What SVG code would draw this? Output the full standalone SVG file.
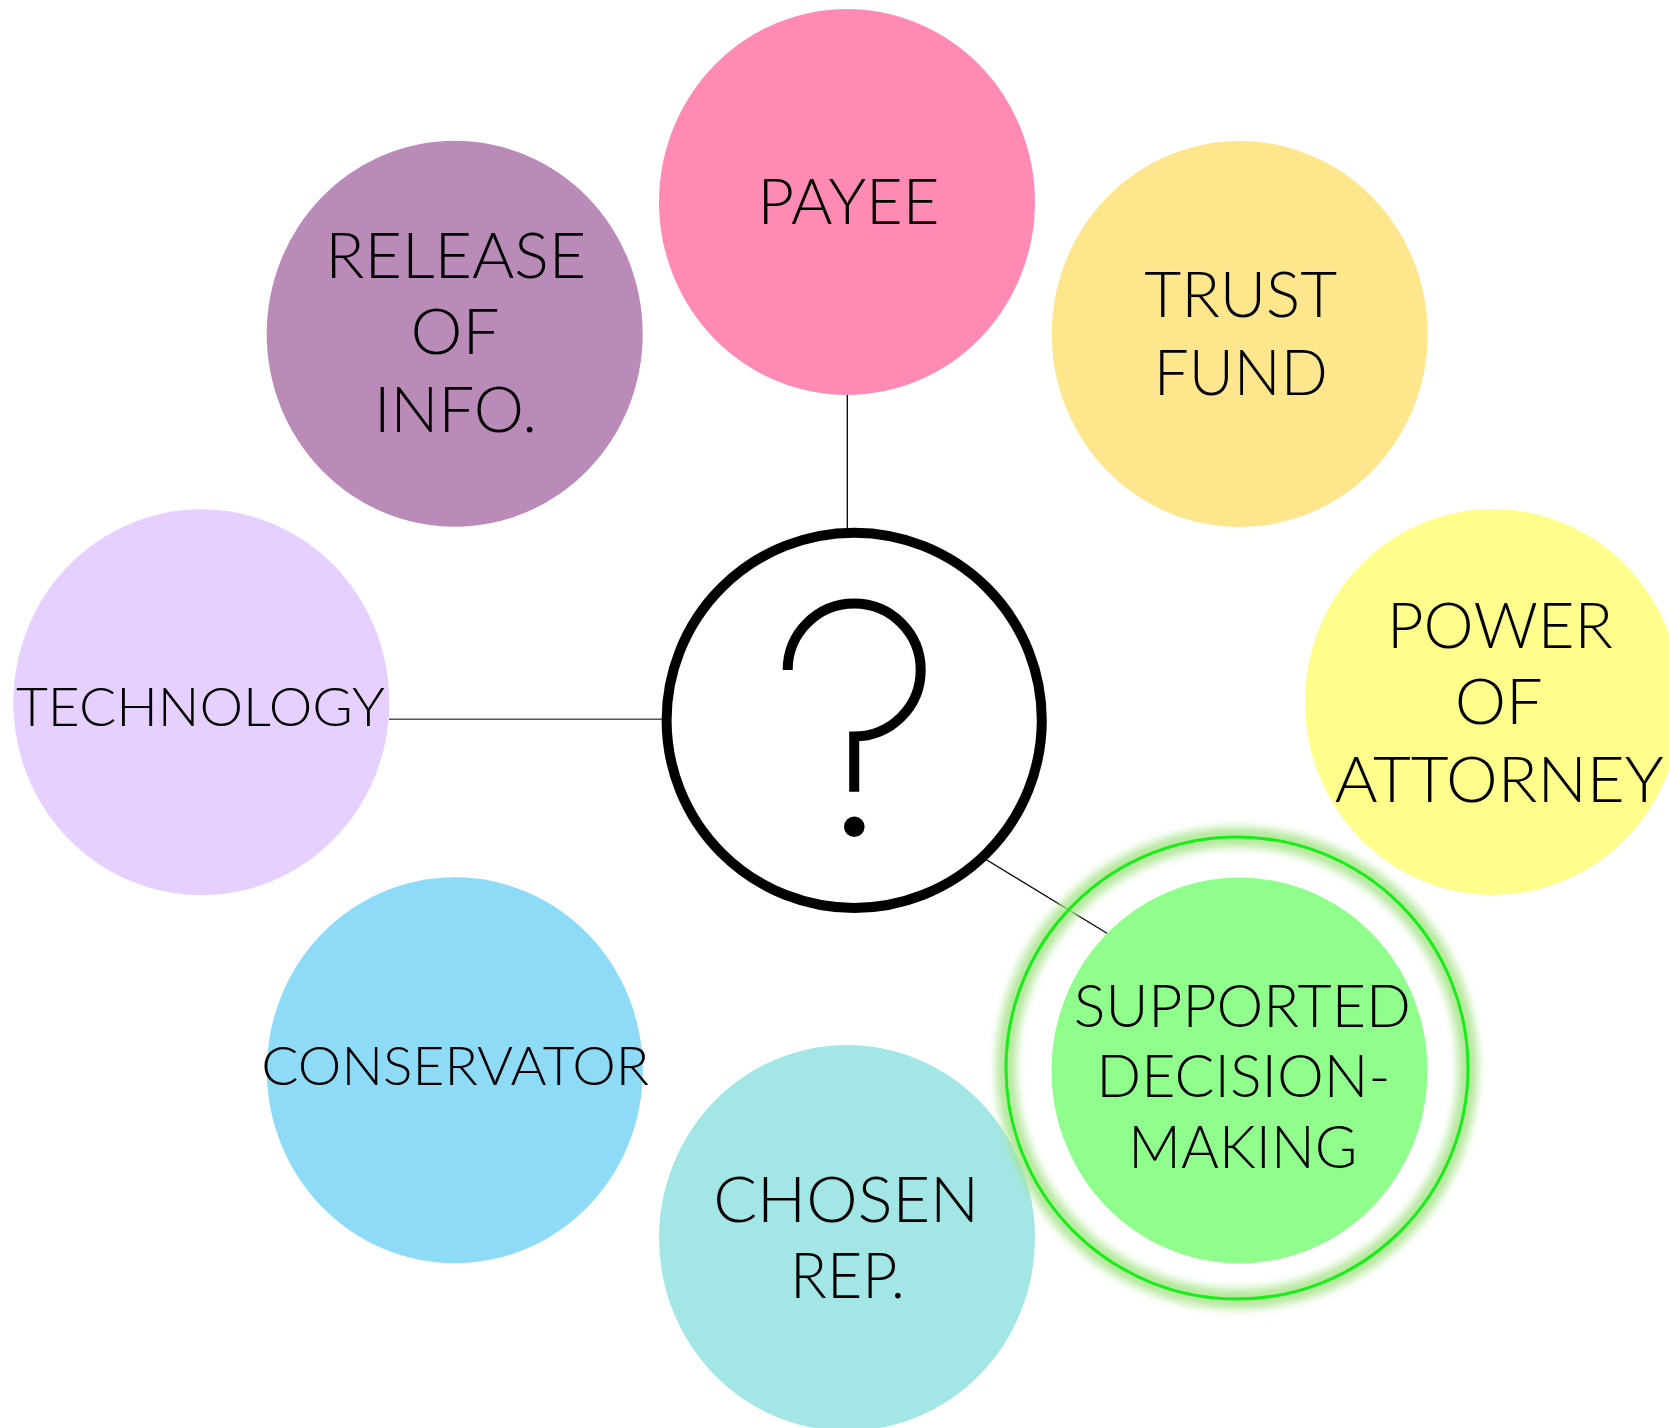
<svg xmlns="http://www.w3.org/2000/svg" width="1669" height="1428" viewBox="0 0 1669 1428">
<defs>
<style>
.lbl{font-family:Lato,"Liberation Sans",sans-serif;font-weight:300;fill:#000;text-anchor:middle}
.big{font-size:63px}
.mid{font-size:59px}
.sm{font-size:54px}
.conn{stroke:#000;stroke-width:1.3;fill:none}
</style>
<filter id="glow" x="-20%" y="-20%" width="140%" height="140%">
<feGaussianBlur stdDeviation="4"/>
</filter>
</defs>
<rect width="1669" height="1428" fill="#fff"/>
<g id="connectors">
<line class="conn" x1="847.3" y1="395" x2="847.3" y2="530"/>
<line class="conn" x1="389" y1="719.3" x2="662" y2="719.3" style="stroke:#555;stroke-width:1.6"/>
<line class="conn" x1="986" y1="859.5" x2="1107" y2="933.3"/>
</g>
<g id="payee">
<ellipse cx="847" cy="202" rx="188" ry="193" fill="#FF8BB5"/>
<text class="lbl big" x="848.5" y="224.3" textLength="182" lengthAdjust="spacingAndGlyphs">PAYEE</text>
</g>
<g id="release-of-info">
<ellipse cx="454.7" cy="333.8" rx="188" ry="193" fill="#BA8BB9"/>
<text class="lbl big" x="455.8" y="277.7" textLength="261" lengthAdjust="spacingAndGlyphs">RELEASE</text>
<text class="lbl big" x="455" y="354.3" textLength="89" lengthAdjust="spacingAndGlyphs">OF</text>
<text class="lbl big" x="455.5" y="431.7" textLength="163" lengthAdjust="spacingAndGlyphs">INFO.</text>
</g>
<g id="trust-fund">
<ellipse cx="1239.7" cy="334" rx="188" ry="193" fill="#FDE68C"/>
<text class="lbl big" x="1240.7" y="317.3" textLength="193" lengthAdjust="spacingAndGlyphs">TRUST</text>
<text class="lbl big" x="1240.8" y="395" textLength="174" lengthAdjust="spacingAndGlyphs">FUND</text>
</g>
<g id="technology">
<ellipse cx="201.3" cy="702.3" rx="188" ry="193" fill="#E6D0FF"/>
<text class="lbl sm" x="200.4" y="726" textLength="369" lengthAdjust="spacingAndGlyphs">TECHNOLOGY</text>
</g>
<g id="power-of-attorney">
<ellipse cx="1493" cy="702" rx="188" ry="193" fill="#FFFD8C"/>
<text class="lbl big" x="1500" y="647.7" textLength="226" lengthAdjust="spacingAndGlyphs">POWER</text>
<text class="lbl big" x="1498.7" y="724.3" textLength="88" lengthAdjust="spacingAndGlyphs">OF</text>
<text class="lbl big" x="1499.2" y="801.7" textLength="329" lengthAdjust="spacingAndGlyphs">ATTORNEY</text>
</g>
<g id="question">
<circle cx="854.2" cy="720.3" r="187.6" fill="#fff" stroke="#000" stroke-width="10"/>
<path d="M787.7,670 A66.5,66.5 0 1 1 854.2,736.5 L854.2,791.7" fill="none" stroke="#000" stroke-width="10"/>
<circle cx="854.3" cy="826.7" r="10.3" fill="#000"/>
</g>
<g id="conservator">
<ellipse cx="454.8" cy="1070.3" rx="188" ry="193" fill="#8DDBF7"/>
<text class="lbl sm" x="455.3" y="1085" textLength="388" lengthAdjust="spacingAndGlyphs">CONSERVATOR</text>
</g>
<g id="chosen-rep">
<ellipse cx="847" cy="1238" rx="188" ry="193" fill="#A2E6E6"/>
<text class="lbl big" x="846.2" y="1221.7" textLength="266" lengthAdjust="spacingAndGlyphs">CHOSEN</text>
<text class="lbl big" x="847.5" y="1298.3" textLength="115" lengthAdjust="spacingAndGlyphs">REP.</text>
</g>
<g id="supported-decision-making">
<circle cx="1237" cy="1068" r="231" fill="none" stroke="#A8E48C" stroke-width="20" filter="url(#glow)" opacity="0.85"/>
<circle cx="1237" cy="1068" r="231" fill="none" stroke="#17EE17" stroke-width="3"/>
<ellipse cx="1239.5" cy="1070.5" rx="188" ry="193" fill="#90FE8C"/>
<text class="lbl mid" x="1242.3" y="1027.3" textLength="337" lengthAdjust="spacingAndGlyphs">SUPPORTED</text>
<text class="lbl mid" x="1243.3" y="1097.3" textLength="294" lengthAdjust="spacingAndGlyphs">DECISION-</text>
<text class="lbl mid" x="1242.8" y="1168.3" textLength="229" lengthAdjust="spacingAndGlyphs">MAKING</text>
</g>
</svg>
